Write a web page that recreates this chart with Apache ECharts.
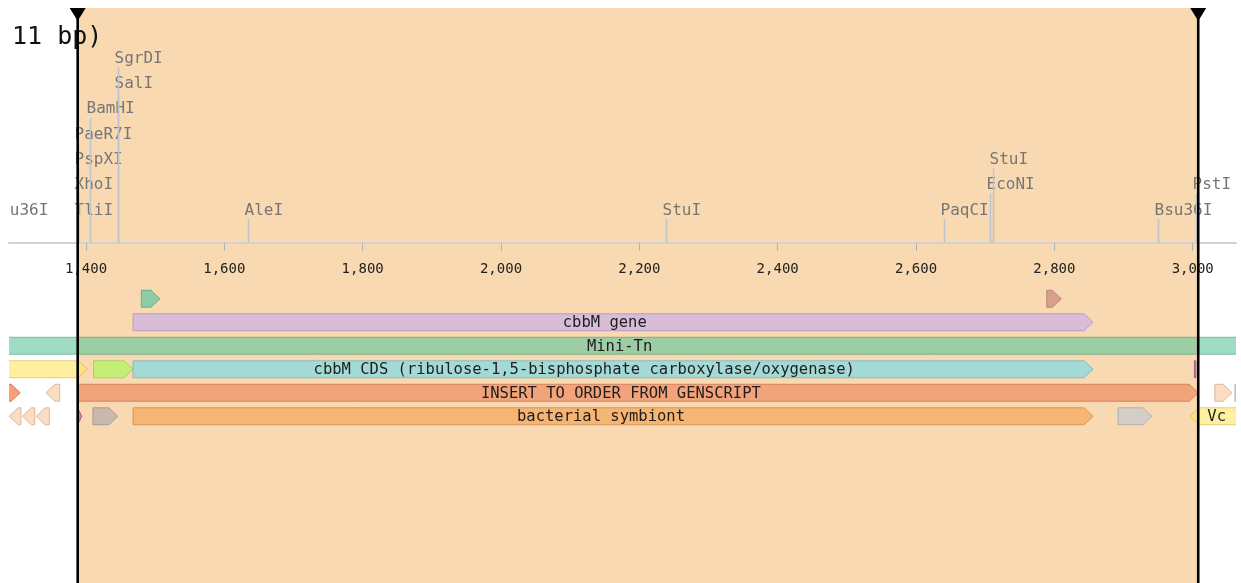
<!DOCTYPE html>
<html>
<head>
<meta charset="utf-8">
<script src="https://cdn.jsdelivr.net/npm/echarts@6/dist/echarts.min.js"></script>
<style>
  html, body { margin: 0; padding: 0; background: #ffffff; }
  #chart { width: 1241px; height: 583px; }
</style>
</head>
<body>
<div id="chart"></div>
<script>
// ---- sequence window and ruler ----
const viewStart = 1288.7;           // first base shown (bp)
const viewEnd = 3062.6;             // last base shown (bp)
const tickValues = [1400, 1600, 1800, 2000, 2200, 2400, 2600, 2800, 3000];
const selectionRange = [1388, 3008];
const titleText = '11 bp)';

// ---- restriction sites ----
const siteNames = ['Bsu36I', 'TliI', 'XhoI', 'PspXI', 'PaeR7I', 'BamHI', 'SalI', 'SgrDI',
  'AleI', 'StuI', 'PaqCI', 'EcoNI', 'StuI', 'Bsu36I', 'PstI'];
const sitePositions = [1267, 1389, 1389, 1389, 1389, 1406, 1446, 1446,
  1634, 2238, 2641, 2707, 2712, 2950, 3005];

// ---- features ----
const trackNames = ['t1', 't2', 't3', 't4', 't5', 't6'];
const featureNames = [
  '', '',
  'cbbM gene',
  'Mini-Tn',
  '', '', 'cbbM CDS (ribulose-1,5-bisphosphate carboxylase/oxygenase)', '',
  '', '', 'INSERT TO ORDER FROM GENSCRIPT', '', '',
  '', '', '', '', '', 'bacterial symbiont', '', 'Vc'
];
const featureStarts = [
  1480, 2789,
  1468,
  1200,
  1200, 1411, 1468, 3003,
  1250, 1342, 1388, 3032, 3061,
  1289, 1308, 1328, 1388, 1410, 1468, 2892, 2996
];
const featureEnds = [
  1507, 2810,
  2856,
  3150,
  1402, 1468, 2856, 3004,
  1305, 1362, 3008, 3057, 3150,
  1306, 1326, 1347, 1394, 1446, 2856, 2941, 3150
];
// 1 = forward, -1 = reverse, 0 = no direction
const featureStrands = [
  1, 1,
  1,
  0,
  1, 1, 1, 0,
  1, -1, 1, 1, 1,
  -1, -1, -1, 1, 1, 1, 1, -1
];
const featureTracks = [
  0, 0,
  1,
  2,
  3, 3, 3, 3,
  4, 4, 4, 4, 4,
  5, 5, 5, 5, 5, 5, 5, 5
];

// ---- styles ----
const featureColors = [
  '#45C39F', '#C47A77',
  '#C2A9F2',
  '#5DC59D',
  '#FFE661', '#A1FC4F', '#6ADBEF', '#B040B0',
  '#EE6121', '#F8C698', '#EF7F55', '#F8C698', '#C8B8A8',
  '#F8C698', '#F8C698', '#F8C698', '#B040B0', '#A7A2AC', '#F49D4A', '#BBC5D7', '#FFE661'
];
const MONO = "'DejaVu Sans Mono', monospace";
const gridLeft = 9, gridRight = 5;
const chartWidth = 1241;
const featureOpacity = 0.6;

function darken(hex, k) {
  const n = parseInt(hex.slice(1), 16);
  const r = Math.round(((n >> 16) & 255) * k);
  const g = Math.round(((n >> 8) & 255) * k);
  const b = Math.round((n & 255) * k);
  return 'rgb(' + r + ',' + g + ',' + b + ')';
}

// stack site labels: each label goes to the lowest tier where it does not collide
const pxPerBp = (chartWidth - gridLeft - gridRight) / (viewEnd - viewStart);
const siteCharW = 9.6, siteGap = 4;
const siteTiers = (function () {
  const placed = [];
  return sitePositions.map(function (p, i) {
    const x = gridLeft + (p - viewStart) * pxPerBp;
    const l = x - 4, r = l + siteNames[i].length * siteCharW;
    let t = 0;
    while ((placed[t] || []).some(function (s) { return l < s[1] + siteGap && r + siteGap > s[0]; })) t++;
    (placed[t] = placed[t] || []).push([l, r]);
    return t;
  });
})();

function renderSite(params, api) {
  const i = api.value(2);
  const pt = api.coord([sitePositions[i], 0]);
  const x = Math.round(pt[0]) + 0.5;
  const base = pt[1];
  const ty = base - 32.5 - siteTiers[i] * 25.3;
  return {
    type: 'group',
    children: [
      { type: 'line', shape: { x1: x, y1: base, x2: x, y2: ty + 8.5 },
        style: { stroke: '#B9C6CF', lineWidth: 1.5 } },
      { type: 'text', x: x - 4, y: ty,
        style: { text: siteNames[i], fill: '#767676', font: '16px ' + MONO,
                 textAlign: 'left', textVerticalAlign: 'middle' } }
    ]
  };
}

function renderFeature(params, api) {
  const i = api.value(3);
  const cs = params.coordSys;
  const s = featureStarts[i], e = featureEnds[i], dir = featureStrands[i];
  const yc = api.coord([s, featureTracks[i]])[1];
  let x0 = api.coord([s, featureTracks[i]])[0];
  let x1 = api.coord([e, featureTracks[i]])[0];
  const h = 17, top = yc - h / 2, bot = yc + h / 2;
  const hd = Math.min(9, x1 - x0);
  let pts;
  if (dir > 0) {
    pts = [[x0, top], [x1 - hd, top], [x1, yc], [x1 - hd, bot], [x0, bot]];
  } else if (dir < 0) {
    pts = [[x1, top], [x0 + hd, top], [x0, yc], [x0 + hd, bot], [x1, bot]];
  } else {
    if (x1 - x0 < 1.5) { const m = (x0 + x1) / 2; x0 = m - 0.75; x1 = m + 0.75; }
    pts = [[x0, top], [x1, top], [x1, bot], [x0, bot]];
  }
  const children = [{
    type: 'polygon', shape: { points: pts },
    style: { fill: featureColors[i], stroke: darken(featureColors[i], 0.78),
             lineWidth: 1, opacity: featureOpacity }
  }];
  const name = featureNames[i];
  if (name) {
    const bx0 = Math.max(dir < 0 ? x0 + hd : x0, cs.x);
    const bx1 = Math.min(dir > 0 ? x1 - hd : x1, cs.x + cs.width);
    // labels sit a little left of the body centre, more so for long names
    children.push({
      type: 'text', x: (bx0 + bx1) / 2 - name.length * 0.42, y: yc + 1,
      style: { text: name, fill: '#1e1e1e', font: '15.5px ' + MONO,
               textAlign: 'center', textVerticalAlign: 'middle' }
    });
  }
  return { type: 'group', children: children };
}

function renderSelection(params, api) {
  const a = api.coord([selectionRange[0], 0])[0];
  const b = api.coord([selectionRange[1], 0])[0];
  return { type: 'rect', shape: { x: a, y: 8, width: b - a, height: api.getHeight() - 8 },
           style: { fill: '#F9D9B1' } };
}

function renderSelectionEdges(params, api) {
  const children = [];
  selectionRange.forEach(function (v) {
    const x = api.coord([v, 0])[0];
    children.push({ type: 'line', shape: { x1: x, y1: 8, x2: x, y2: api.getHeight() },
                    style: { stroke: '#000', lineWidth: 2.6 } });
    children.push({ type: 'polygon', shape: { points: [[x - 8, 8], [x + 8, 8], [x, 21]] },
                    style: { fill: '#000' } });
  });
  return { type: 'group', children: children };
}

const chart = echarts.init(document.getElementById('chart'), null, { renderer: 'canvas' });
chart.setOption({
  animation: false,
  backgroundColor: '#ffffff',
  title: {
    text: titleText, left: 7, top: 20, z: 1,
    textStyle: { fontSize: 25, fontWeight: 'normal', color: '#111', fontFamily: MONO }
  },
  grid: [
    { left: gridLeft, right: gridRight, top: 8, bottom: 583 - 243 },
    { left: gridLeft, right: gridRight, top: 287, height: 141 }
  ],
  xAxis: [
    {
      type: 'value', gridIndex: 0, min: viewStart, max: viewEnd, z: 1,
      axisLine: { show: true, lineStyle: { color: '#d2d2d2', width: 2 } },
      axisTick: { show: true, customValues: tickValues, length: 8, lineStyle: { color: '#a9b3ba', width: 1 } },
      axisLabel: {
        customValues: tickValues, margin: 19, color: '#222', fontSize: 14, fontFamily: MONO,
        formatter: function (v) { return Math.round(v).toLocaleString('en-US'); }
      },
      splitLine: { show: false }
    },
    { type: 'value', gridIndex: 1, min: viewStart, max: viewEnd, show: false }
  ],
  yAxis: [
    { type: 'value', gridIndex: 0, min: 0, max: 1, show: false },
    { type: 'category', gridIndex: 1, data: trackNames, inverse: true, show: false }
  ],
  series: [
    {
      type: 'custom', name: 'selection', xAxisIndex: 1, yAxisIndex: 1, z: 0, clip: false,
      renderItem: renderSelection, data: [[selectionRange[0], 0]], silent: true
    },
    {
      type: 'custom', name: 'sites', xAxisIndex: 0, yAxisIndex: 0, z: 3, clip: true,
      renderItem: renderSite,
      data: sitePositions.map(function (p, i) { return [p, 0, i]; }), silent: true
    },
    {
      type: 'custom', name: 'features', xAxisIndex: 1, yAxisIndex: 1, z: 3, clip: true,
      renderItem: renderFeature,
      data: featureStarts.map(function (s, i) { return [s, featureTracks[i], featureEnds[i], i]; }),
      silent: true
    },
    {
      type: 'custom', name: 'selectionEdges', xAxisIndex: 1, yAxisIndex: 1, z: 10, clip: false,
      renderItem: renderSelectionEdges, data: [[selectionRange[0], 0]], silent: true
    }
  ]
});
</script>
</body>
</html>
